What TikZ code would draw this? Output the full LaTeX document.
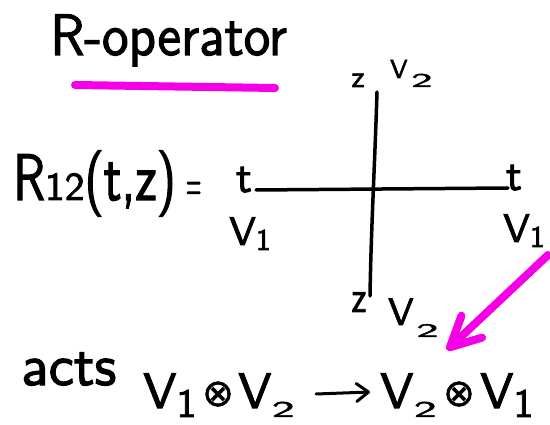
\documentclass[tikz,border=0pt]{standalone}
\usepackage{fontspec}
\usepackage{graphicx}
\newfontfamily\symf{DejaVu Sans}[FakeBold=1.2]
\newfontfamily\hand{lmsans10-regular.otf}[FakeBold=2]
\usetikzlibrary{arrows.meta}
\definecolor{hl}{RGB}{245,0,230}
% V with a handwritten-size subscript: #1 digit, #2 h-scale, #3 v-scale, #4 lowering
\newcommand\Vsb[4]{V\kern0.5pt\raisebox{-#4}{\scalebox{#2}[#3]{#1}}}
\newcommand\Vone[3]{V\raisebox{-#3}{\scalebox{#2}{1}}}
\begin{document}
\begin{tikzpicture}[x=1pt,y=-1pt,
  ink/.style={line width=3.5pt, line cap=round, black},
  hlstroke/.style={hl, line width=8pt, line cap=round},
  lbl/.style={inner sep=0pt, font=\hand}]
\useasboundingbox[fill=white] (0,0) rectangle (550,425);
% title
\node[lbl, anchor=base west] (title) at (50,55) {\fontsize{53}{60}\selectfont\scalebox{1}[1.1]{R-operator}};
\coordinate (ul1) at (75,85);
\coordinate (ul2) at (275,88);
\draw[hlstroke] (ul1) -- (ul2);
% R12(t,z) =
\node[lbl, anchor=base west] (R) at (13,200) {\fontsize{47}{50}\selectfont\scalebox{1.05}[1.4]{R\scalebox{0.8}[0.6]{12}(t,z)}\kern10pt{\fontsize{44}{44}\selectfont\scalebox{0.45}[1.1]{=}}};
% crossing lines
\coordinate (h1) at (256,190);
\coordinate (h2) at (508,188);
\coordinate (v1) at (377,92);
\coordinate (v2) at (370,296);
\draw[ink] (h1) -- (h2);
\draw[ink] (v1) .. controls (375,160) and (371,230) .. (v2);
% labels
\node[lbl, anchor=base] (tL) at (244,192) {\fontsize{44}{44}\selectfont t};
\node[lbl, anchor=base] (tR) at (514,190) {\fontsize{44}{44}\selectfont t};
\node[lbl, anchor=base west] (VL) at (229,245) {\fontsize{40}{44}\selectfont\Vone{1}{0.75}{5pt}};
\node[lbl, anchor=base west] (VR) at (503,242) {\fontsize{40}{44}\selectfont\Vone{1}{0.75}{5pt}};
\node[lbl, anchor=base] (zT) at (358,87) {\fontsize{30}{34}\selectfont z};
\node[lbl, anchor=base west] (VT) at (390,78) {\fontsize{26}{30}\selectfont V\kern4pt\raisebox{-9pt}{\scalebox{1.6}[0.75]{2}}};
\node[lbl, anchor=base] (zB) at (359,312) {\fontsize{34}{36}\selectfont\scalebox{1}[1.3]{z}};
\node[lbl, anchor=base west] (VB) at (388,325) {\fontsize{38}{40}\selectfont V\kern3pt\raisebox{-12pt}{\scalebox{1.15}[0.5]{2}}};
% magenta arrow
\coordinate (a1) at (548,255);
\coordinate (a2) at (447,350);
\draw[hlstroke, -{Straight Barb[length=30pt, width=30pt, round]}] (a1) -- (a2);
% bottom row
\node[lbl, anchor=base west] (acts) at (21,385) {\fontsize{57}{60}\selectfont acts};
\node[lbl, anchor=base west] (V1a) at (143,408) {\fontsize{50}{54}\selectfont\Vone{1}{0.8}{9pt}};
\node[lbl, anchor=base] (otA) at (218,406) {\fontsize{38}{44}\symf ⊗};
\node[lbl, anchor=base west] (V2a) at (238,408) {\fontsize{50}{54}\selectfont\Vsb{2}{0.9}{0.45}{9pt}};
\node[lbl, anchor=base west] (V2b) at (380,408) {\fontsize{50}{54}\selectfont\Vsb{2}{0.9}{0.45}{9pt}};
\node[lbl, anchor=base] (otB) at (459,406) {\fontsize{38}{44}\symf ⊗};
\node[lbl, anchor=base west] (V1b) at (480,408) {\fontsize{50}{54}\selectfont\Vone{1}{0.8}{9pt}};
\coordinate (ar1) at (316,394);
\coordinate (ar2) at (370,392);
\draw[ink, line width=3pt, -{Straight Barb[length=12pt, width=18pt, round]}] (ar1) -- (ar2);
\end{tikzpicture}
\end{document}
